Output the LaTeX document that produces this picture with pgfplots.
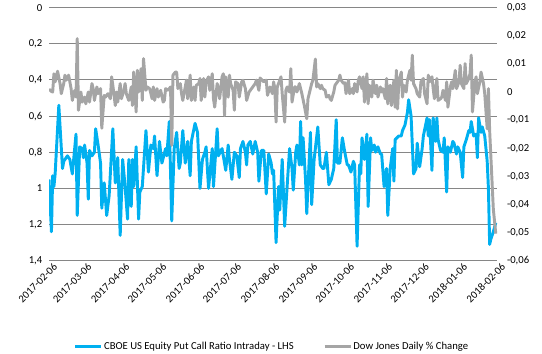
\documentclass[border=0pt]{standalone}
\usepackage{pgfplots}
\pgfplotsset{compat=1.18}
\usepackage{fontspec}
\setmainfont{Carlito}
\definecolor{cblue}{RGB}{0,176,240}
\definecolor{cgray}{RGB}{165,165,165}
\definecolor{gridc}{RGB}{134,134,134}

\pgfplotstableread{
day ratio
0 0.95
2 1.24
3 0.93
4 0.99
5 0.92
8 0.54
11 0.89
12 0.85
15 0.82
17 0.84
19 0.92
22 0.70
23 1.15
25 0.77
27 0.78
28 0.83
29 0.76
31 0.86
32 1.06
33 0.79
35 0.82
37 0.80
38 0.67
40 0.76
42 0.86
43 1.11
45 0.97
47 1.15
49 1.04
52 0.67
54 0.97
56 0.83
58 1.26
60 0.84
62 0.99
64 1.17
65 0.84
67 1.10
68 0.84
69 0.99
71 0.77
73 1.17
74 1.02
76 0.99
79 0.68
81 0.91
83 0.76
85 0.78
86 0.71
88 0.93
90 0.74
92 0.86
95 0.78
96 0.82
98 0.63
100 1.18
102 0.78
104 0.69
106 0.89
107 0.86
109 0.68
111 0.86
113 0.74
115 0.93
116 0.74
119 0.64
121 0.69
123 1.00
125 0.84
127 0.80
128 0.77
130 1.00
133 0.78
134 0.99
137 0.67
138 0.82
141 0.78
143 0.86
144 0.90
146 0.76
147 0.84
149 0.95
151 0.80
153 0.82
155 0.94
156 0.78
158 0.74
160 0.80
161 0.87
162 0.76
164 0.74
166 0.81
168 0.74
170 0.80
171 0.96
173 0.79
175 0.79
177 1.03
179 0.81
181 0.86
182 0.92
183 0.90
185 1.30
187 0.99
188 1.12
190 0.84
192 1.21
194 0.99
196 0.78
198 0.89
199 1.01
201 0.80
202 0.76
204 0.87
205 0.63
206 0.87
207 0.72
209 0.95
210 1.14
213 0.69
214 1.09
216 0.84
219 0.66
221 0.87
223 0.89
224 0.89
226 0.80
228 0.98
230 0.95
232 0.89
234 0.62
235 0.86
237 0.86
239 0.72
241 0.80
243 0.87
244 0.87
246 0.91
248 0.85
249 0.87
251 1.32
253 0.87
254 0.92
255 0.72
257 0.84
259 0.70
260 1.10
262 0.72
263 0.79
265 0.76
266 0.80
268 0.77
270 0.81
271 0.81
273 0.99
275 0.89
276 1.15
278 0.89
280 0.78
281 0.96
282 0.73
285 0.71
287 0.71
288 0.68
290 0.65
292 0.58
293 0.51
295 0.60
297 0.92
299 0.89
300 0.75
302 0.88
304 0.78
305 0.71
308 0.61
309 0.71
310 0.62
312 0.90
313 0.61
315 0.74
316 0.61
317 0.73
319 0.79
321 0.80
322 0.72
324 1.02
325 0.77
327 0.80
329 0.74
330 0.75
332 0.81
333 0.77
335 0.80
337 0.94
338 0.77
340 0.73
342 0.68
343 0.69
344 0.63
346 0.71
348 0.70
349 0.83
350 0.61
352 0.69
353 0.66
355 0.71
357 0.85
358 1.00
359 1.31
360 1.28
362 1.24
364 1.19
}\pcr

\pgfplotstableread{
day chg
0 0.0010
2 0.0002
3 0.0000
4 0.0065
5 0.0036
7 0.0074
9 0.0030
10 -0.0006
12 0.0030
13 0.0060
14 0.0042
16 0.0060
18 0.0012
19 -0.0030
21 0.0006
22 -0.0018
23 0.0190
24 -0.0065
26 0.0000
27 -0.0036
29 -0.0018
30 -0.0042
32 0.0000
33 -0.0036
35 0.0030
36 0.0012
37 -0.0030
39 0.0018
40 -0.0006
42 0.0012
43 -0.0129
45 -0.0012
46 -0.0018
48 -0.0006
50 -0.0024
51 0.0054
52 0.0024
54 -0.0048
55 0.0000
56 -0.0036
58 0.0030
59 -0.0024
61 0.0006
62 0.0030
63 -0.0006
65 -0.0030
67 0.0018
68 -0.0048
69 0.0071
71 -0.0071
72 0.0077
73 0.0000
75 0.0083
76 -0.0030
77 0.0119
79 0.0006
80 0.0018
82 0.0012
84 -0.0024
85 0.0018
86 -0.0030
88 0.0012
89 -0.0018
91 0.0006
93 -0.0036
94 -0.0030
95 0.0012
97 0.0006
99 0.0018
100 -0.0190
101 0.0060
103 0.0071
104 0.0071
105 0.0012
107 0.0030
108 -0.0006
109 -0.0030
111 0.0018
112 0.0042
113 -0.0024
115 0.0060
116 -0.0030
118 0.0018
119 -0.0030
120 0.0024
122 0.0030
123 0.0048
124 -0.0030
126 0.0048
127 -0.0018
128 0.0036
130 0.0054
131 0.0006
133 0.0065
134 -0.0024
135 -0.0054
137 0.0030
138 0.0012
139 -0.0024
141 0.0054
142 0.0065
143 -0.0083
144 0.0054
146 -0.0018
147 0.0060
148 0.0030
150 0.0006
151 -0.0065
152 0.0036
154 0.0030
155 -0.0018
157 0.0036
158 0.0042
160 0.0012
161 -0.0030
163 0.0000
165 0.0012
166 0.0018
168 0.0030
169 0.0042
171 0.0006
172 0.0050
175 0.0036
177 0.0042
178 -0.0012
180 0.0018
182 -0.0006
183 0.0036
184 0.0012
185 -0.0107
186 0.0018
188 0.0042
189 0.0054
190 -0.0006
192 -0.0107
193 0.0006
194 0.0018
196 0.0000
197 0.0083
198 -0.0036
200 0.0018
201 0.0018
202 0.0000
204 0.0030
205 0.0012
206 -0.0006
208 -0.0048
210 -0.0095
211 -0.0024
213 0.0012
214 0.0030
215 0.0042
217 0.0117
218 0.0018
219 0.0030
221 0.0012
222 0.0024
223 0.0012
225 0.0006
226 -0.0018
228 -0.0012
229 -0.0024
230 -0.0030
232 0.0000
233 0.0024
234 0.0030
236 0.0042
237 0.0060
238 0.0042
240 0.0030
241 0.0033
242 -0.0006
244 0.0042
245 -0.0006
247 0.0012
248 -0.0006
249 0.0030
251 0.0000
252 0.0042
253 0.0054
255 0.0012
256 0.0054
257 -0.0036
259 0.0065
260 -0.0042
261 0.0024
263 -0.0018
264 0.0042
266 -0.0006
267 0.0024
268 -0.0018
270 0.0018
271 0.0000
272 0.0012
274 -0.0024
275 0.0048
276 -0.0042
278 0.0024
279 -0.0048
281 0.0042
282 -0.0054
283 0.0077
284 -0.0060
285 0.0036
287 0.0071
288 -0.0018
289 0.0024
291 0.0000
292 0.0042
294 0.0077
295 0.0042
296 0.0131
297 0.0030
299 0.0012
300 -0.0006
302 -0.0018
303 0.0036
305 0.0048
306 -0.0006
308 -0.0042
309 0.0060
310 0.0036
312 0.0054
313 0.0012
314 -0.0024
316 0.0048
317 -0.0030
319 -0.0024
320 -0.0018
321 0.0006
323 -0.0030
324 0.0036
325 -0.0054
327 0.0018
328 0.0036
329 0.0012
331 0.0077
332 0.0012
334 0.0036
335 0.0095
336 0.0030
338 0.0012
339 0.0101
340 0.0030
342 0.0048
343 0.0065
344 0.0131
345 -0.0071
347 0.0036
348 0.0054
349 -0.0006
351 0.0036
352 0.0071
354 0.0030
355 -0.0006
357 -0.0131
358 0.0012
359 -0.0137
362 -0.0417
364 -0.0504
}\dow

\begin{document}
\begin{tikzpicture}
\useasboundingbox (-36.75pt,-69.75pt) rectangle (369.75pt,195.5pt);
\pgfplotsset{
  base/.style={
    at={(0pt,0pt)}, anchor=south west,
    scale only axis, width=336pt, height=189.75pt,
    xmin=0, xmax=365,
    major tick length=0pt,
    tick label style={font=\fontsize{8}{9.6}\selectfont, text=black},
    axis line style={draw=none},
  },
}
\begin{axis}[base,
  y dir=reverse, ymin=0, ymax=1.4,
  ytick={0,0.2,0.4,0.6,0.8,1,1.2,1.4},
  yticklabels={0,{0,2},{0,4},{0,6},{0,8},1,{1,2},{1,4}},
  yticklabel style={anchor=east, xshift=-1.5pt},
  ymajorgrids, major grid style={draw=gridc, line width=0.75pt},
  xtick={0,28,59,89,120,150,181,212,242,273,303,334,365},
  xticklabels={2017-02-06,2017-03-06,2017-04-06,2017-05-06,2017-06-06,2017-07-06,2017-08-06,2017-09-06,2017-10-06,2017-11-06,2017-12-06,2018-01-06,2018-02-06},
  xticklabel style={rotate=45, anchor=north east, inner sep=1pt, xshift=2pt, yshift=-2pt},
]
\addplot[cblue, line width=2.2pt, line join=round, no markers] table[x=day, y=ratio] {\pcr};
\end{axis}
\begin{axis}[base,
  ymin=-0.06, ymax=0.03,
  axis y line*=right, hide x axis,
  ytick={-0.06,-0.05,-0.04,-0.03,-0.02,-0.01,0,0.01,0.02,0.03},
  yticklabels={-0{,}06,-0{,}05,-0{,}04,-0{,}03,-0{,}02,-0{,}01,0,0{,}01,0{,}02,0{,}03},
  yticklabel style={anchor=west, xshift=4pt},
  legend columns=2,
  legend style={at={(0.497,-0.34)}, anchor=center, draw=none, fill=none,
    font=\fontsize{8}{9.6}\selectfont, inner sep=0pt,
    nodes={inner sep=1pt},
    /tikz/every even column/.append style={column sep=21pt}},
  legend image code/.code={\draw[#1] (0pt,0pt) -- (19.5pt,0pt);},
]
\addlegendimage{cblue, line width=2.2pt}
\addlegendentry{CBOE US Equity Put Call Ratio Intraday - LHS}
\addplot[cgray, line width=2.2pt, line join=round, no markers] table[x=day, y=chg] {\dow};
\addlegendentry{Dow Jones Daily \% Change}
\end{axis}
\end{tikzpicture}
\end{document}
